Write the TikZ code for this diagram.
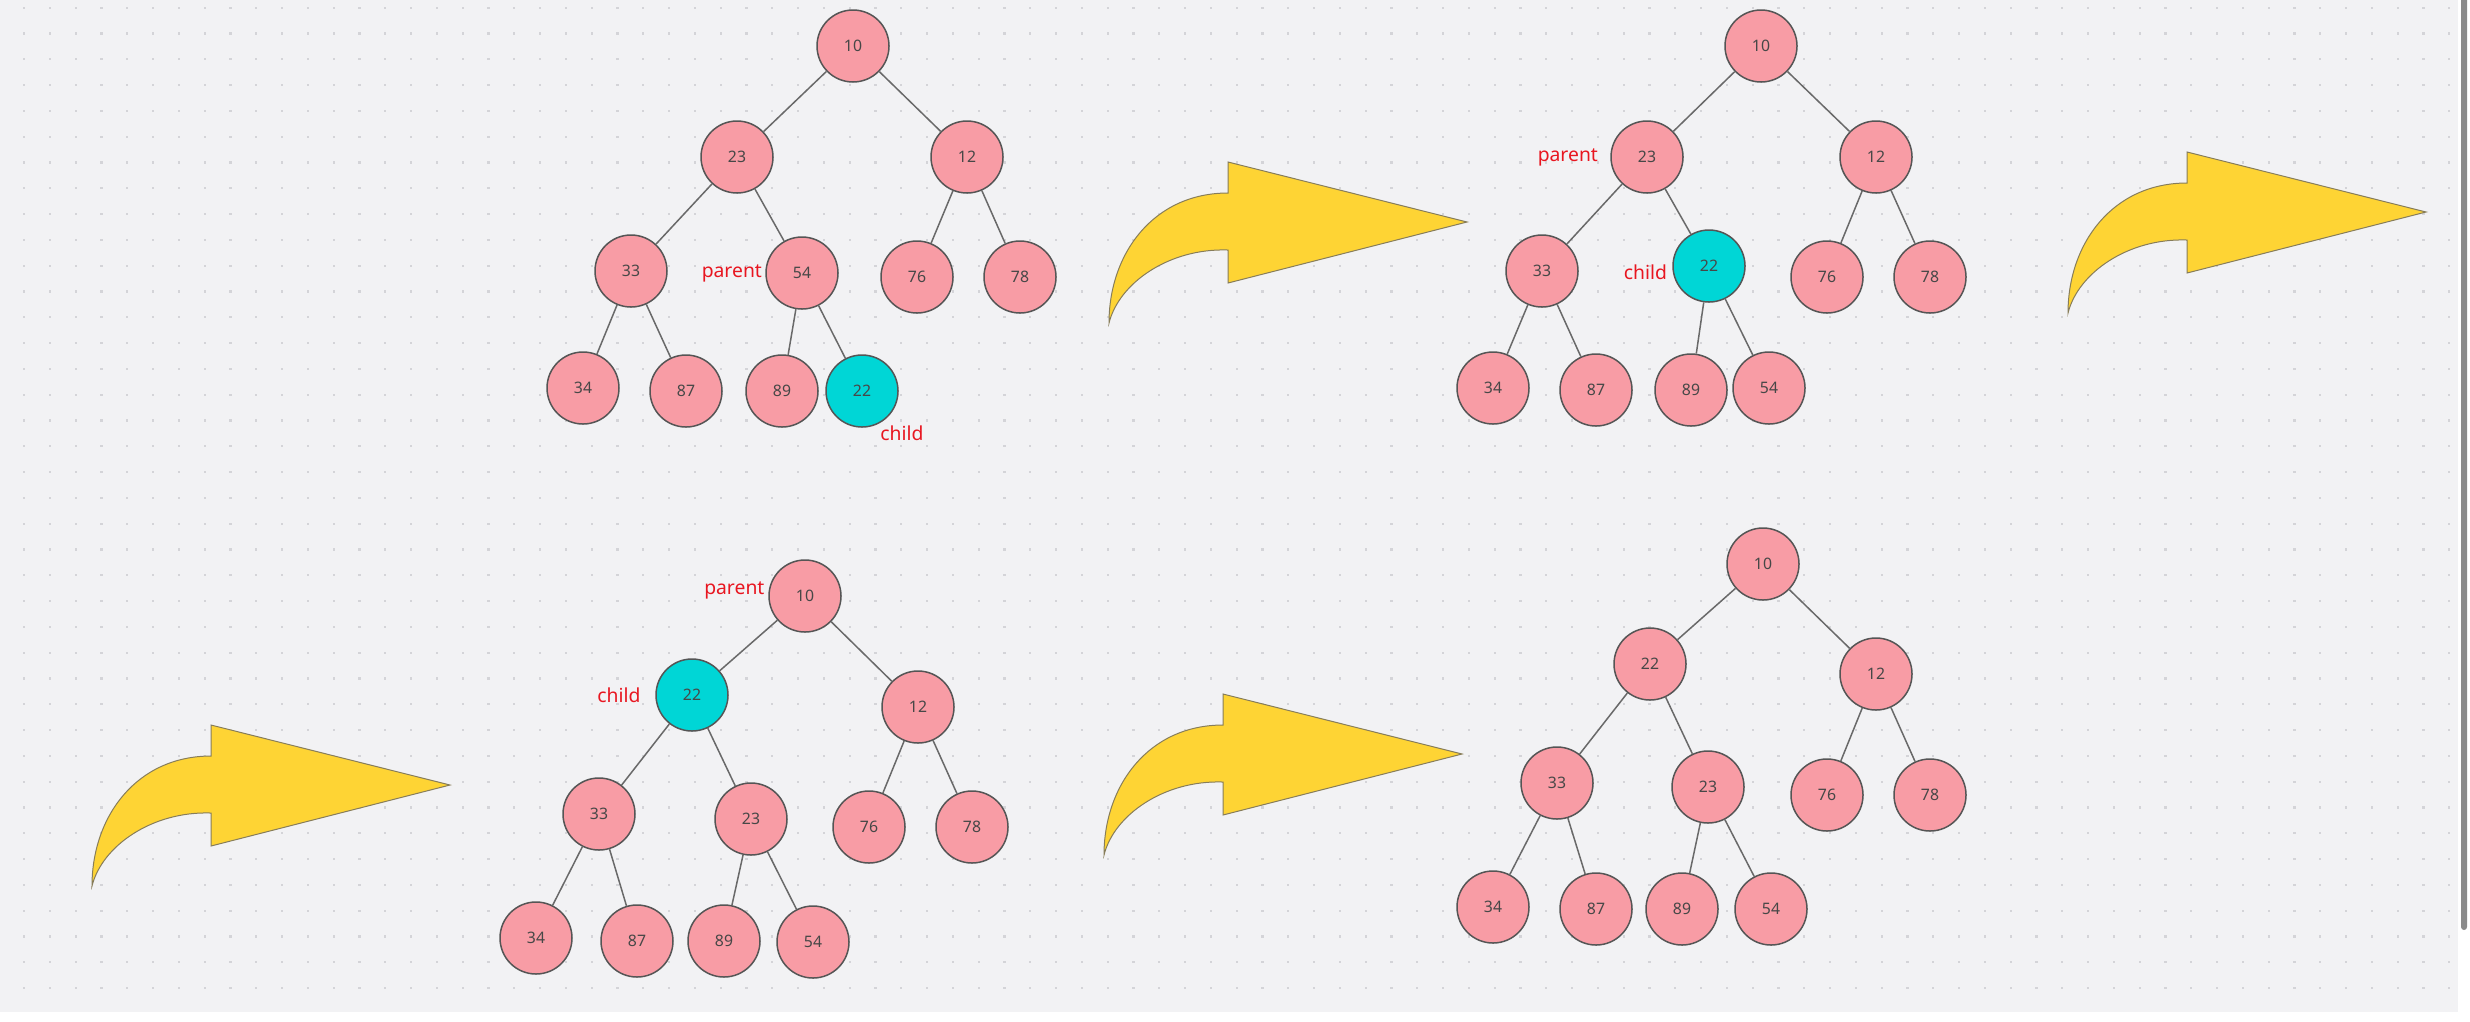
\documentclass[tikz,border=0pt]{standalone}
\usepackage{fontspec}
\setmainfont{Noto Sans}
\usepackage{tikz}
\usetikzlibrary{positioning, shapes.geometric}

\definecolor{canvas}{RGB}{242,242,244}
\definecolor{griddot}{RGB}{212,212,216}
\definecolor{heapnode}{RGB}{248,156,165}
\definecolor{movednode}{RGB}{0,214,214}
\definecolor{nodeline}{RGB}{85,85,85}
\definecolor{edgeline}{RGB}{105,105,105}
\definecolor{arrowfill}{RGB}{254,212,52}
\definecolor{arrowline}{RGB}{135,125,90}
\definecolor{markred}{RGB}{232,22,32}
\definecolor{scrollbar}{RGB}{138,138,138}

\begin{document}
\begin{tikzpicture}[x=0.2mm, y=-0.2mm,
  heap/.style={ellipse, draw=nodeline, line width=0.3mm, fill=heapnode,
               minimum width=14.4mm, minimum height=14.4mm, inner sep=0pt,
               font=\fontsize{9}{10}\selectfont, text=black!72},
  moved/.style={heap, fill=movednode},
  edge/.style={draw=edgeline, line width=0.3mm},
  tag/.style={text=markred, inner sep=0pt, font=\fontsize{11}{12}\selectfont},
  turnarrow/.pic={
    \draw[fill=arrowfill, draw=arrowline, line width=0.2mm]
      (0,0) .. controls (0,-70) and (45,-130) .. (119,-130)
      -- (119,-161) -- (358,-101) -- (119,-40) -- (119,-73)
      .. controls (60,-75) and (10,-40) .. (0,0) -- cycle;
  }
]
  \useasboundingbox (0,0) rectangle (2470,1021);

  % Canvas with dot grid
  \fill[white] (0,0) rectangle (2470,1021);
  \fill[canvas] (0,0) rectangle (2458,1012);
  \foreach \i in {0,...,94}
    \foreach \j in {0,...,38}
      \fill[griddot] (23+25.8*\i,6.5+25.8*\j) rectangle +(2.2,2.2);
  \fill[scrollbar, rounded corners=0.6mm] (2461,-10) rectangle (2467,930);

  % Tree 1: 22 added at the bottom
  \node[heap] (A10) at (853,46) {10};
  \node[heap] (A23) at (737,157) {23};
  \node[heap] (A12) at (967,157) {12};
  \node[heap] (A33) at (631,271) {33};
  \node[heap] (A54) at (802,273) {54};
  \node[heap] (A76) at (917,277) {76};
  \node[heap] (A78) at (1020,277) {78};
  \node[heap] (A34) at (583,388) {34};
  \node[heap] (A87) at (686,391) {87};
  \node[heap] (A89) at (782,391) {89};
  \node[moved] (A22) at (862,391) {22};
  \foreach \p/\c in {A10/A23, A10/A12, A23/A33, A23/A54, A12/A76, A12/A78,
                     A33/A34, A33/A87, A54/A89, A54/A22}
    \draw[edge] (\p) -- (\c);
  \node[tag, left=0.6mm of A54] (pA) {parent};
  \node[tag, anchor=west] (cA) at (880,433) {child};

  % Tree 2: 22 swapped with 54
  \node[heap] (B10) at (1761,46) {10};
  \node[heap] (B23) at (1647,157) {23};
  \node[heap] (B12) at (1876,157) {12};
  \node[heap] (B33) at (1542,271) {33};
  \node[moved] (B22) at (1709,266) {22};
  \node[heap] (B76) at (1827,277) {76};
  \node[heap] (B78) at (1930,277) {78};
  \node[heap] (B34) at (1493,388) {34};
  \node[heap] (B87) at (1596,390) {87};
  \node[heap] (B89) at (1691,390) {89};
  \node[heap] (B54) at (1769,388) {54};
  \foreach \p/\c in {B10/B23, B10/B12, B23/B33, B23/B22, B12/B76, B12/B78,
                     B33/B34, B33/B87, B22/B89, B22/B54}
    \draw[edge] (\p) -- (\c);
  \node[tag, left=2.4mm of B23] (pB) {parent};
  \node[tag, left=1mm of B22, yshift=-1.2mm] (cB) {child};

  % Tree 3: 22 swapped with 23
  \node[heap] (C10) at (805,596) {10};
  \node[moved] (C22) at (692,695) {22};
  \node[heap] (C12) at (918,707) {12};
  \node[heap] (C33) at (599,814) {33};
  \node[heap] (C23) at (751,819) {23};
  \node[heap] (C76) at (869,827) {76};
  \node[heap] (C78) at (972,827) {78};
  \node[heap] (C34) at (536,938) {34};
  \node[heap] (C87) at (637,941) {87};
  \node[heap] (C89) at (724,941) {89};
  \node[heap] (C54) at (813,942) {54};
  \foreach \p/\c in {C10/C22, C10/C12, C22/C33, C22/C23, C12/C76, C12/C78,
                     C33/C34, C33/C87, C23/C89, C23/C54}
    \draw[edge] (\p) -- (\c);
  \node[tag, left=0.7mm of C10, yshift=1.2mm] (pC) {parent};
  \node[tag, left=2.9mm of C22] (cC) {child};

  % Tree 4: final heap
  \node[heap] (D10) at (1763,564) {10};
  \node[heap] (D22) at (1650,664) {22};
  \node[heap] (D12) at (1876,674) {12};
  \node[heap] (D33) at (1557,783) {33};
  \node[heap] (D23) at (1708,787) {23};
  \node[heap] (D76) at (1827,795) {76};
  \node[heap] (D78) at (1930,795) {78};
  \node[heap] (D34) at (1493,907) {34};
  \node[heap] (D87) at (1596,909) {87};
  \node[heap] (D89) at (1682,909) {89};
  \node[heap] (D54) at (1771,909) {54};
  \foreach \p/\c in {D10/D22, D10/D12, D22/D33, D22/D23, D12/D76, D12/D78,
                     D33/D34, D33/D87, D23/D89, D23/D54}
    \draw[edge] (\p) -- (\c);

  % Step arrows
  \pic at (1109,323) {turnarrow};
  \pic at (2068,313) {turnarrow};
  \pic at (92,886) {turnarrow};
  \pic at (1104,855) {turnarrow};
\end{tikzpicture}
\end{document}
